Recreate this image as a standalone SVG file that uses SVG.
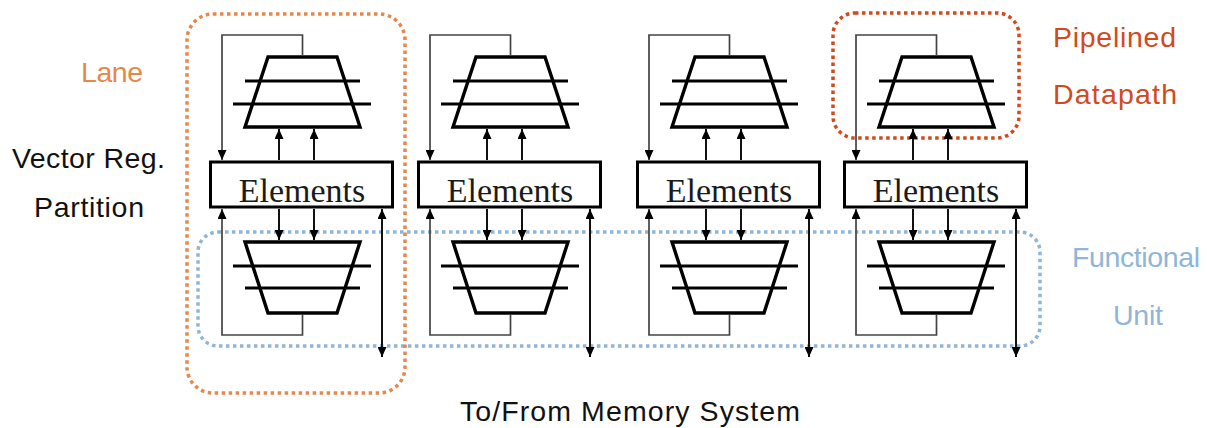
<svg xmlns="http://www.w3.org/2000/svg" width="1207" height="428" viewBox="0 0 1207 428">
  <defs>
    <!-- filled arrowhead, fixed size in user units -->
    <marker id="ah" markerUnits="userSpaceOnUse" viewBox="0 0 10 9" markerWidth="10" markerHeight="9" refX="10" refY="4.5" orient="auto-start-reverse">
      <path d="M0,0 L10,4.5 L0,9 z" fill="#000"/>
    </marker>
  </defs>
  <style>
    .stage{fill:#fff;stroke:#000;stroke-width:3.4;stroke-linejoin:miter}
    .latch{stroke:#000;stroke-width:3}
    .reg{fill:#fff;stroke:#000;stroke-width:3}
    .reg-t{font-family:"Liberation Serif","Times New Roman",serif;font-size:34px;fill:#1a1a1a;text-anchor:middle}
    .bus{fill:none;stroke:#111;stroke-width:2}
    .loop{fill:none;stroke:#444;stroke-width:1.7}
    .bound{fill:none;stroke-width:3.5;stroke-dasharray:3.5 3.5}
    .lbl{font-family:"Liberation Sans",Arial,sans-serif;font-size:28.5px}
  </style>

  <rect width="1207" height="428" fill="#fff"/>

  <!-- grouping outlines -->
  <g id="functional-unit-outline">
    <rect class="bound" x="198" y="232" width="842" height="114" rx="20" stroke="#8fb5d8"/>
  </g>
  <g id="lane-outline">
    <rect class="bound" x="187" y="14" width="218" height="379" rx="26" stroke="#e8874a"/>
  </g>
  <g id="datapath-outline">
    <rect class="bound" x="833" y="13" width="186" height="125" rx="22" stroke="#d24a1c"/>
  </g>

  <!-- lanes: pipelined stages and register partitions -->
  <g id="lane1">
    <g id="lane1-upper-pipe">
      <polygon class="stage" points="268,57 337,57 360,127 245,127"/>
      <line class="latch" x1="245" y1="81" x2="360" y2="81"/>
      <line class="latch" x1="233" y1="104" x2="371" y2="104"/>
    </g>
    <g id="lane1-elements">
      <rect class="reg" x="210.5" y="162" width="182" height="45"/>
      <text class="reg-t" x="302" y="202">Elements</text>
    </g>
    <g id="lane1-lower-pipe">
      <polygon class="stage" points="245,242 360,242 337,313 268,313"/>
      <line class="latch" x1="233" y1="266" x2="371" y2="266"/>
      <line class="latch" x1="245" y1="288" x2="360" y2="288"/>
    </g>
  </g>

  <g id="lane2" transform="translate(208,0)">
    <g id="lane2-upper-pipe">
      <polygon class="stage" points="268,57 337,57 360,127 245,127"/>
      <line class="latch" x1="245" y1="81" x2="360" y2="81"/>
      <line class="latch" x1="233" y1="104" x2="371" y2="104"/>
    </g>
    <g id="lane2-elements">
      <rect class="reg" x="210.5" y="162" width="182" height="45"/>
      <text class="reg-t" x="302" y="202">Elements</text>
    </g>
    <g id="lane2-lower-pipe">
      <polygon class="stage" points="245,242 360,242 337,313 268,313"/>
      <line class="latch" x1="233" y1="266" x2="371" y2="266"/>
      <line class="latch" x1="245" y1="288" x2="360" y2="288"/>
    </g>
  </g>

  <g id="lane3" transform="translate(427,0)">
    <g id="lane3-upper-pipe">
      <polygon class="stage" points="268,57 337,57 360,127 245,127"/>
      <line class="latch" x1="245" y1="81" x2="360" y2="81"/>
      <line class="latch" x1="233" y1="104" x2="371" y2="104"/>
    </g>
    <g id="lane3-elements">
      <rect class="reg" x="210.5" y="162" width="182" height="45"/>
      <text class="reg-t" x="302" y="202">Elements</text>
    </g>
    <g id="lane3-lower-pipe">
      <polygon class="stage" points="245,242 360,242 337,313 268,313"/>
      <line class="latch" x1="233" y1="266" x2="371" y2="266"/>
      <line class="latch" x1="245" y1="288" x2="360" y2="288"/>
    </g>
  </g>

  <g id="lane4" transform="translate(634,0)">
    <g id="lane4-upper-pipe">
      <polygon class="stage" points="268,57 337,57 360,127 245,127"/>
      <line class="latch" x1="245" y1="81" x2="360" y2="81"/>
      <line class="latch" x1="233" y1="104" x2="371" y2="104"/>
    </g>
    <g id="lane4-elements">
      <rect class="reg" x="210.5" y="162" width="182" height="45"/>
      <text class="reg-t" x="302" y="202">Elements</text>
    </g>
    <g id="lane4-lower-pipe">
      <polygon class="stage" points="245,242 360,242 337,313 268,313"/>
      <line class="latch" x1="233" y1="266" x2="371" y2="266"/>
      <line class="latch" x1="245" y1="288" x2="360" y2="288"/>
    </g>
  </g>

  <!-- connectors -->
  <g id="connectors">
    <g id="lane1-links">
      <path class="bus" d="M279,160 V129" marker-end="url(#ah)"/>
      <path class="bus" d="M314,160 V129" marker-end="url(#ah)"/>
      <path class="bus" d="M279,209 V240" marker-end="url(#ah)"/>
      <path class="bus" d="M314,209 V240" marker-end="url(#ah)"/>
      <path class="loop" d="M302.5,55 V35 H222 V160" marker-end="url(#ah)"/>
      <path class="loop" d="M302.5,315 V335 H222 V209" marker-end="url(#ah)"/>
      <path class="bus" d="M382,209 V357" marker-start="url(#ah)" marker-end="url(#ah)"/>
    </g>
    <g id="lane2-links" transform="translate(208,0)">
      <path class="bus" d="M279,160 V129" marker-end="url(#ah)"/>
      <path class="bus" d="M314,160 V129" marker-end="url(#ah)"/>
      <path class="bus" d="M279,209 V240" marker-end="url(#ah)"/>
      <path class="bus" d="M314,209 V240" marker-end="url(#ah)"/>
      <path class="loop" d="M302.5,55 V35 H222 V160" marker-end="url(#ah)"/>
      <path class="loop" d="M302.5,315 V335 H222 V209" marker-end="url(#ah)"/>
      <path class="bus" d="M382,209 V357" marker-start="url(#ah)" marker-end="url(#ah)"/>
    </g>
    <g id="lane3-links" transform="translate(427,0)">
      <path class="bus" d="M279,160 V129" marker-end="url(#ah)"/>
      <path class="bus" d="M314,160 V129" marker-end="url(#ah)"/>
      <path class="bus" d="M279,209 V240" marker-end="url(#ah)"/>
      <path class="bus" d="M314,209 V240" marker-end="url(#ah)"/>
      <path class="loop" d="M302.5,55 V35 H222 V160" marker-end="url(#ah)"/>
      <path class="loop" d="M302.5,315 V335 H222 V209" marker-end="url(#ah)"/>
      <path class="bus" d="M382,209 V357" marker-start="url(#ah)" marker-end="url(#ah)"/>
    </g>
    <g id="lane4-links" transform="translate(634,0)">
      <path class="bus" d="M279,160 V129" marker-end="url(#ah)"/>
      <path class="bus" d="M314,160 V129" marker-end="url(#ah)"/>
      <path class="bus" d="M279,209 V240" marker-end="url(#ah)"/>
      <path class="bus" d="M314,209 V240" marker-end="url(#ah)"/>
      <path class="loop" d="M302.5,55 V35 H222 V160" marker-end="url(#ah)"/>
      <path class="loop" d="M302.5,315 V335 H222 V209" marker-end="url(#ah)"/>
      <path class="bus" d="M382,209 V357" marker-start="url(#ah)" marker-end="url(#ah)"/>
    </g>
  </g>

  <!-- labels -->
  <g id="labels">
    <text class="lbl" x="81" y="82" textLength="62" fill="#e8874a">Lane</text>
    <text class="lbl" x="12" y="168" textLength="153" fill="#111">Vector Reg.</text>
    <text class="lbl" x="34" y="217" textLength="110" fill="#111">Partition</text>
    <text class="lbl" x="1053" y="47" textLength="123" fill="#d24a1c">Pipelined</text>
    <text class="lbl" x="1053" y="104" textLength="124" fill="#d24a1c">Datapath</text>
    <text class="lbl" x="1072" y="267" textLength="128" fill="#8fb5d8">Functional</text>
    <text class="lbl" x="1113" y="325" textLength="50" fill="#8fb5d8">Unit</text>
    <text class="lbl" x="460" y="421" textLength="340" fill="#111">To/From Memory System</text>
  </g>
</svg>
